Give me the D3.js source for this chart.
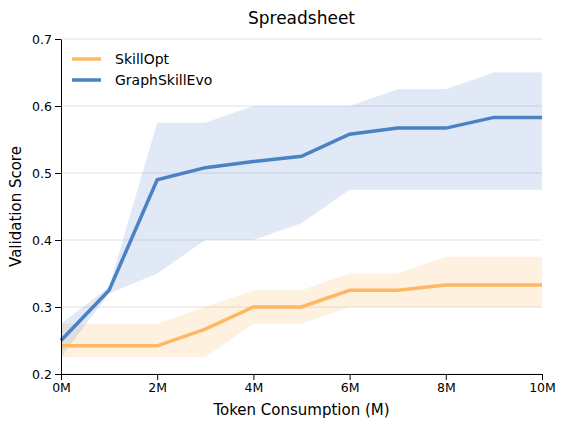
<!DOCTYPE html>
<html><head><meta charset="utf-8">
<script src="https://cdn.jsdelivr.net/npm/d3@7"></script>
<style>body{margin:0;background:#fff}text{font-family:"DejaVu Sans",sans-serif}</style>
</head><body><div id="wrapper"></div>
<script>
const tokens = [0, 1, 2, 3, 4, 5, 6, 7, 8, 9, 10];
const graphMean = [0.25, 0.325, 0.49, 0.508, 0.517, 0.525, 0.558, 0.567, 0.567, 0.583, 0.583];
const graphLow = [0.225, 0.32, 0.35, 0.40, 0.40, 0.425, 0.475, 0.475, 0.475, 0.475, 0.475];
const graphHigh = [0.275, 0.33, 0.575, 0.575, 0.60, 0.60, 0.60, 0.625, 0.625, 0.65, 0.65];
const optMean = [0.242, 0.242, 0.242, 0.267, 0.30, 0.30, 0.325, 0.325, 0.333, 0.333, 0.333];
const optLow = [0.225, 0.225, 0.225, 0.225, 0.275, 0.275, 0.30, 0.30, 0.30, 0.30, 0.30];
const optHigh = [0.275, 0.275, 0.275, 0.30, 0.325, 0.325, 0.35, 0.35, 0.375, 0.375, 0.375];
const xTicks = [0, 2, 4, 6, 8, 10];
const yTicks = [0.2, 0.3, 0.4, 0.5, 0.6, 0.7];

const width = 566, height = 428;
const margin = { top: 39, right: 24, bottom: 54, left: 61 };
const bw = width - margin.left - margin.right;
const bh = height - margin.top - margin.bottom;

const x = d3.scaleLinear().domain([0, 10]).range([0, bw]);
const y = d3.scaleLinear().domain([0.2, 0.7]).range([bh, 0]);

const svg = d3.select("#wrapper").append("svg").attr("width", width).attr("height", height);
const g = svg.append("g").attr("transform", `translate(${margin.left},${margin.top})`);

g.selectAll(".grid").data(yTicks).join("line")
  .attr("x1", 0).attr("x2", bw).attr("y1", d => y(d)).attr("y2", d => y(d))
  .attr("stroke", "#d9d9d9").attr("stroke-width", 0.8);

const area = (lo, hi) => d3.area().x((d, i) => x(tokens[i])).y0((d, i) => y(lo[i])).y1((d, i) => y(hi[i]));
const ln = (m) => d3.line().x((d, i) => x(tokens[i])).y((d, i) => y(m[i]));

g.append("path").attr("d", area(optLow, optHigh)(tokens)).attr("fill", "#fdb863").attr("opacity", 0.2);
g.append("path").attr("d", area(graphLow, graphHigh)(tokens)).attr("fill", "#4a7fc1").attr("opacity", 0.17);
g.append("path").attr("d", ln(optMean)(tokens)).attr("fill", "none").attr("stroke", "#fdb863").attr("stroke-width", 3.5);
g.append("path").attr("d", ln(graphMean)(tokens)).attr("fill", "none").attr("stroke", "#4a82c3").attr("stroke-width", 3.5);

const xa = g.append("g").attr("transform", `translate(0,${bh})`)
  .call(d3.axisBottom(x).tickValues(xTicks).tickFormat(d => d + "M").tickSizeOuter(0));
const ya = g.append("g").call(d3.axisLeft(y).tickValues(yTicks).tickFormat(d3.format(".1f")).tickSizeOuter(0));
[xa, ya].forEach(a => { a.selectAll("text").attr("font-size", 12.5).attr("fill", "#000"); a.selectAll("path,line").attr("stroke", "#000"); });

svg.append("text").attr("x", margin.left + bw / 2).attr("y", 24).attr("text-anchor", "middle").attr("font-size", 17).text("Spreadsheet");
svg.append("text").attr("x", margin.left + bw / 2).attr("y", 415).attr("text-anchor", "middle").attr("font-size", 15).text("Token Consumption (M)");
svg.append("text").attr("transform", `translate(21,${margin.top + bh / 2}) rotate(-90)`).attr("text-anchor", "middle").attr("font-size", 15).text("Validation Score");

const legend = [["SkillOpt", "#fdb863"], ["GraphSkillEvo", "#4a82c3"]];
legend.forEach(([name, c], i) => {
  const ly = 59 + i * 21;
  svg.append("line").attr("x1", 72).attr("x2", 101).attr("y1", ly).attr("y2", ly).attr("stroke", c).attr("stroke-width", 3.5);
  svg.append("text").attr("x", 115).attr("y", ly + 5).attr("font-size", 14).text(name);
});
</script></body></html>
